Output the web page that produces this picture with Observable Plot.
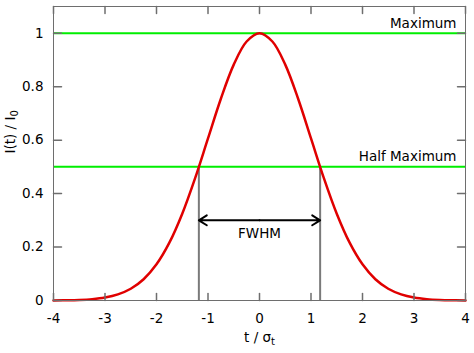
<!DOCTYPE html>
<html>
<head>
<meta charset="utf-8">
<script src="https://cdn.jsdelivr.net/npm/d3@7"></script>
<script src="https://cdn.jsdelivr.net/npm/@observablehq/plot@0.6"></script>
<style>
  html, body { margin: 0; padding: 0; background: #ffffff; }
</style>
</head>
<body>
<div id="chart"></div>
<script>
// ---- data ----
const tValues = [-4, -3.75, -3.5, -3.25, -3, -2.75, -2.5, -2.25, -2, -1.75, -1.5, -1.25, -1, -0.75, -0.5, -0.25,
  0, 0.25, 0.5, 0.75, 1, 1.25, 1.5, 1.75, 2, 2.25, 2.5, 2.75, 3, 3.25, 3.5, 3.75, 4];
const intensity = [0.0003, 0.0009, 0.0022, 0.0051, 0.0111, 0.0228, 0.0439, 0.0796, 0.1353, 0.2163, 0.3247, 0.4578, 0.6065, 0.7548, 0.8825, 0.969,
  1, 0.969, 0.8825, 0.7548, 0.6065, 0.4578, 0.3247, 0.2163, 0.1353, 0.0796, 0.0439, 0.0228, 0.0111, 0.0051, 0.0022, 0.0009, 0.0003];

const xTicks = [-4, -3, -2, -1, 0, 1, 2, 3, 4];
const yTicks = [0, 0.2, 0.4, 0.6, 0.8, 1];
const xDomain = [-4, 4];
const yDomain = [0, 1.1];

const levels = [1, 0.5];
const levelLabels = ["Maximum", "Half Maximum"];
const fwhmEdges = [-1.1774, 1.1774];
const arrowLevel = 0.3;
const fwhmLabel = "FWHM";

const xLabelMain = "t / σ", xLabelSub = "t";
const yLabelMain = "I(t) / I", yLabelSub = "0";

const curve = tValues.map((t, i) => ({t, v: intensity[i]}));

// tick shape: a short line drawn from the anchor inward
const tickShape = {draw(context, l) { context.moveTo(0, 0); context.lineTo(0, -l); }};
const frameColor = "#6e6e6e";

const svg = Plot.plot({
  width: 474,
  height: 353,
  marginLeft: 53,
  marginRight: 9,
  marginTop: 6,
  marginBottom: 53,
  style: {fontFamily: "'DejaVu Sans', sans-serif", fontSize: "13.5px", color: "#000", background: "#fff"},
  x: {domain: xDomain},
  y: {domain: yDomain},
  marks: [
    // green reference levels
    Plot.ruleY(levels, {y: d => d, stroke: "#00ee00", strokeWidth: 2}),
    // FWHM edges
    Plot.ruleX(fwhmEdges, {x: d => d, y1: () => 0, y2: () => levels[1], stroke: "#7a7a7a", strokeWidth: 2}),
    // double arrow
    Plot.arrow(fwhmEdges, {x1: () => 0, x2: d => d, y1: () => arrowLevel, y2: () => arrowLevel,
      stroke: "#000", strokeWidth: 2, headLength: 7, headAngle: 64}),
    Plot.text([fwhmLabel], {x: () => 0, y: () => arrowLevel, text: d => d, dy: 13, fill: "#000"}),
    // level labels
    Plot.text(levels, {x: () => xDomain[1], y: d => d, text: (d, i) => levelLabels[i],
      textAnchor: "end", dx: -9, dy: -10, fill: "#000"}),
    // gaussian curve
    Plot.line(curve, {x: "t", y: "v", stroke: "#e00000", strokeWidth: 2.5, curve: "catmull-rom"}),
    // frame
    Plot.frame({stroke: frameColor, strokeWidth: 1}),
    // inward ticks on all four sides
    Plot.vector(xTicks, {x: d => d, y: () => yDomain[0], length: 7, rotate: 0, anchor: "start", shape: tickShape, stroke: frameColor}),
    Plot.vector(xTicks, {x: d => d, y: () => yDomain[1], length: 7, rotate: 180, anchor: "start", shape: tickShape, stroke: frameColor}),
    Plot.vector(yTicks, {x: () => xDomain[0], y: d => d, length: 8, rotate: 90, anchor: "start", shape: tickShape, stroke: frameColor}),
    Plot.vector(yTicks, {x: () => xDomain[1], y: d => d, length: 8, rotate: 270, anchor: "start", shape: tickShape, stroke: frameColor}),
    // tick labels
    Plot.axisX({ticks: xTicks, tickSize: 0, tickPadding: 13, tickFormat: d => String(d), label: null, fill: "#000"}),
    Plot.axisY({ticks: yTicks, tickSize: 0, tickPadding: 10, tickFormat: d => String(d), label: null, fill: "#000"}),
    // axis titles
    Plot.text([xLabelMain], {frameAnchor: "bottom", dy: 41, text: d => d, fill: "#000"}),
    Plot.text([yLabelMain], {frameAnchor: "left", dx: -43, rotate: -90, text: d => d, fill: "#000"})
  ]
});

// subscripts for the axis titles
d3.select(svg).selectAll("text").each(function () {
  const t = this.textContent;
  if (t === xLabelMain) {
    d3.select(this).append("tspan").attr("font-size", "10px").attr("dy", "0.35em").text(xLabelSub);
  } else if (t === yLabelMain) {
    d3.select(this).append("tspan").attr("font-size", "10px").attr("dy", "0.35em").text(yLabelSub);
  }
});

document.getElementById("chart").append(svg);
</script>
</body>
</html>
